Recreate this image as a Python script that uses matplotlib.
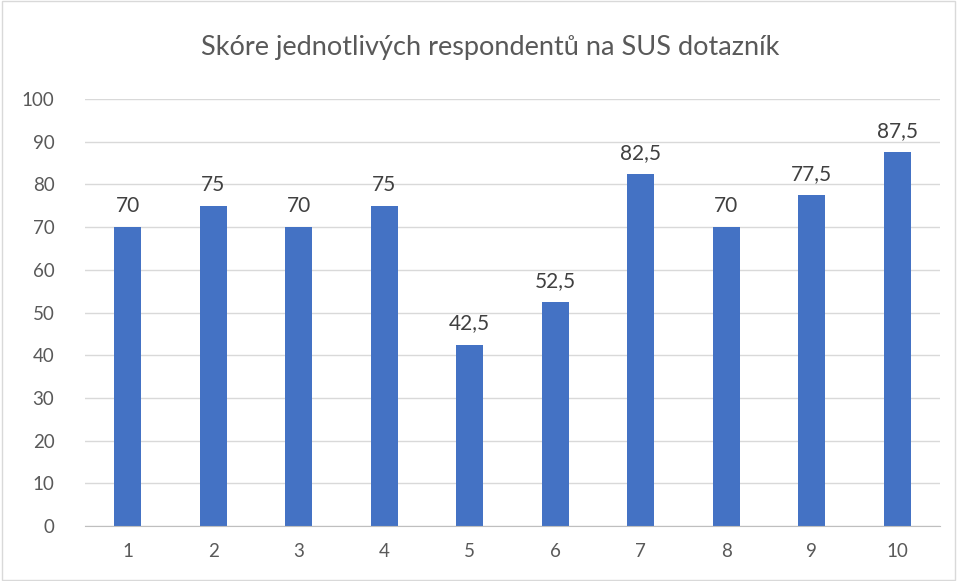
import matplotlib
matplotlib.use("Agg")
import matplotlib.pyplot as plt
from matplotlib.patches import Rectangle

categories = ["1", "2", "3", "4", "5", "6", "7", "8", "9", "10"]
values = [70, 75, 70, 75, 42.5, 52.5, 82.5, 70, 77.5, 87.5]
value_labels = ["70", "75", "70", "75", "42,5", "52,5", "82,5", "70", "77,5", "87,5"]
title = "Skóre jednotlivých respondentů na SUS dotazník"

plt.rcParams['font.family'] = ['Lato', 'DejaVu Sans']

fig = plt.figure(figsize=(9.57, 5.81), dpi=100)
ax = fig.add_axes([85/957, 1-526/581, (940-85)/957, (526-99)/581])

x = list(range(len(categories)))
bars = ax.bar(x, values, width=0.32, color="#4472C4", zorder=3)
for xi, v, lab in zip(x, values, value_labels):
    ax.annotate(lab, (xi, v), xytext=(0, 8), textcoords="offset points",
                ha="center", va="bottom", fontsize=15, color="#404040")

ax.set_xlim(-0.5, len(categories) - 0.5)
ax.set_ylim(0, 100)
ax.set_yticks(range(0, 101, 10))
ax.set_xticks(x)
ax.set_xticklabels(categories)
ax.tick_params(axis="both", length=0, labelsize=13.5, labelcolor="#595959")
ax.tick_params(axis="y", pad=22)
ax.tick_params(axis="x", pad=12)
ax.grid(axis="y", color="#D9D9D9", linewidth=1, zorder=0)
for s in ["top", "right", "left"]:
    ax.spines[s].set_visible(False)
ax.spines["bottom"].set_color("#BFBFBF")
ax.spines["bottom"].set_zorder(4)

fig.text(490/957, 1 - 48/581, title, ha="center", va="center", fontsize=19.5, color="#595959")

fig.patches.append(Rectangle((0.002, 0.002), 0.996, 0.996, transform=fig.transFigure,
                             fill=False, edgecolor="#D9D9D9", linewidth=1))

fig.savefig("out.png", dpi=100)
